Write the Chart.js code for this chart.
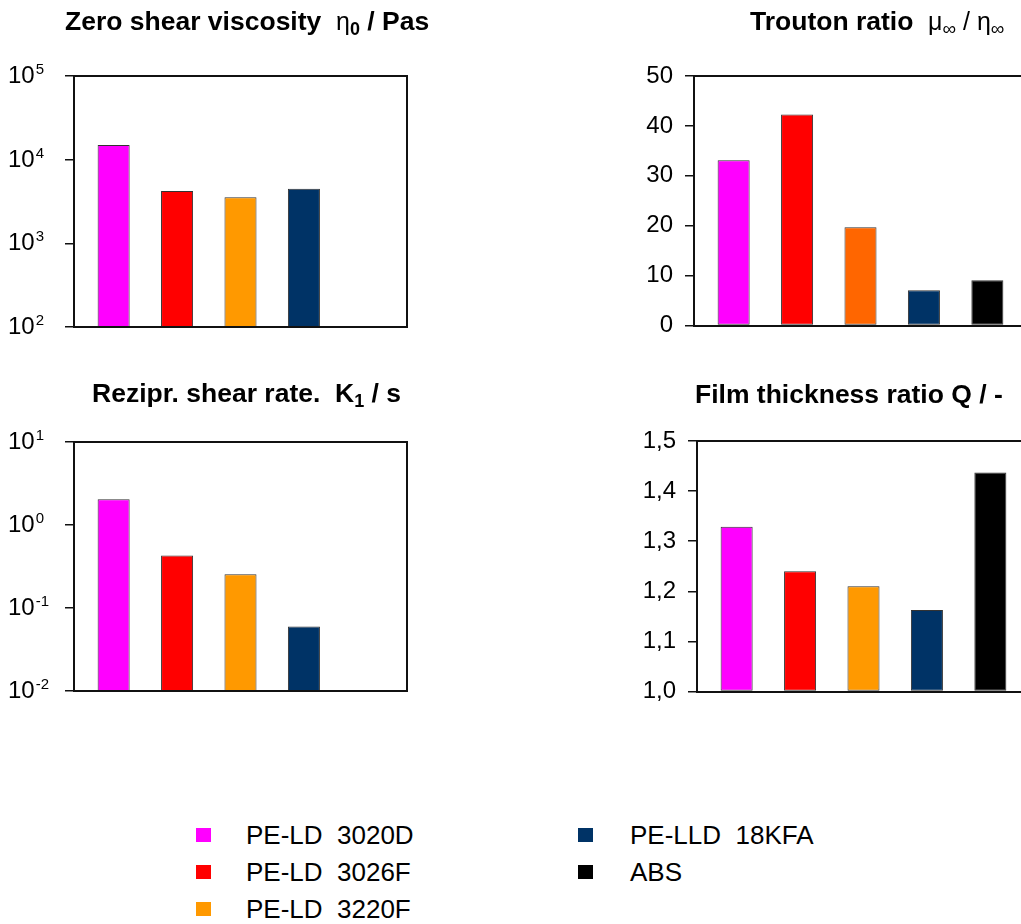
<!DOCTYPE html>
<html>
  <head>
    <script src="https://cdn.jsdelivr.net/npm/chart.js@4.4.0/dist/chart.umd.min.js"></script>
    <style>
      html, body { margin: 0; padding: 0; background: #fff; overflow: hidden; width: 1021px; height: 924px; }
      canvas { position: absolute; }
      .legend-item { position: absolute; font: 26px "Liberation Sans", Arial, sans-serif; line-height: 26px; white-space: pre; color: #000; }
      .swatch { position: absolute; width: 15px; height: 14px; }
    </style>
  </head>
  <body>
    <canvas id="viscosityChart" width="450" height="345" style="left:0;top:0"></canvas>
    <canvas id="troutonChart" width="480" height="352" style="left:560px;top:0"></canvas>
    <canvas id="shearRateChart" width="450" height="340" style="left:0;top:370px"></canvas>
    <canvas id="filmChart" width="480" height="348" style="left:560px;top:370px"></canvas>
    <div id="legend"></div>

    <script>
      // data
      var categories = ["PE-LD  3020D", "PE-LD  3026F", "PE-LD  3220F", "PE-LLD  18KFA", "ABS"];
      var zeroShearViscosity = [15000, 4230, 3550, 4500, null];
      var troutonRatio = [33.1, 42.3, 19.7, 7.1, 9.1];
      var reciprocalShearRate = [2.04, 0.43, 0.255, 0.0597, null];
      var filmThicknessRatio = [1.329, 1.24, 1.21, 1.163, 1.437];

      var viscosityExponents = [2, 3, 4, 5];
      var shearRateExponents = [-2, -1, 0, 1];
      var troutonTicks = [0, 10, 20, 30, 40, 50];
      var filmTicks = [1.0, 1.1, 1.2, 1.3, 1.4, 1.5];

      var barColors = ["#FF00FF", "#FF0000", "#FF9900", "#003366", "#000000"];
      var troutonColors = ["#FF00FF", "#FF0000", "#FF6600", "#003366", "#000000"];

      var family = '"Liberation Sans", Arial, sans-serif';
      Chart.defaults.font.family = family;
      Chart.defaults.color = "#000";

      // box round the plot area
      var framePlugin = {
        id: "frame",
        afterDatasetsDraw: function (chart) {
          var a = chart.chartArea;
          var ctx = chart.ctx;
          ctx.save();
          ctx.strokeStyle = "#111";
          ctx.lineWidth = 2;
          ctx.strokeRect(Math.round(a.left), Math.round(a.top),
            Math.round(a.right - a.left), Math.round(a.bottom - a.top));
          ctx.restore();
        }
      };

      // titles with sub scripts
      var titlePlugin = {
        id: "richTitle",
        afterDraw: function (chart, args, opts) {
          var ctx = chart.ctx;
          var x = opts.x;
          ctx.save();
          ctx.fillStyle = "#000";
          ctx.textAlign = "left";
          ctx.textBaseline = "alphabetic";
          opts.parts.forEach(function (p) {
            ctx.font = p.font + " " + family;
            ctx.fillText(p.text, x, opts.y + (p.dy || 0));
            x += ctx.measureText(p.text).width;
          });
          ctx.restore();
        }
      };

      // 10^n labels for the log axes
      var powerLabelPlugin = {
        id: "powerLabels",
        afterDraw: function (chart) {
          var scale = chart.scales.y;
          var ctx = chart.ctx;
          var x = chart.chartArea.left - 66;
          ctx.save();
          ctx.fillStyle = "#000";
          ctx.textAlign = "left";
          ctx.textBaseline = "alphabetic";
          scale.ticks.forEach(function (t) {
            var y = scale.getPixelForValue(t.value);
            var exp = Math.round(Math.log10(t.value));
            ctx.font = "24px " + family;
            ctx.fillText("10", x, y + 7);
            var w = ctx.measureText("10").width;
            ctx.font = "15px " + family;
            ctx.fillText(String(exp), x + w + 1, y - 2);
          });
          ctx.restore();
        }
      };

      // bars sit a little inside the frame
      function insetCategories(scale) {
        scale._startValue = -0.625;
        scale._valueRange = categories.length + 0.25;
      }

      function makeChart(id, values, colors, yScale, padding, title, plugins, base) {
        return new Chart(document.getElementById(id), {
          type: "bar",
          data: {
            labels: categories,
            datasets: [{
              data: values,
              backgroundColor: colors,
              borderColor: "#333",
              borderWidth: 1,
              borderSkipped: false,
              base: base,
              categoryPercentage: 1,
              barPercentage: 0.505
            }]
          },
          options: {
            responsive: false,
            animation: false,
            layout: { padding: padding },
            plugins: { legend: { display: false }, tooltip: { enabled: false }, richTitle: title },
            scales: {
              x: { display: false, afterBuildTicks: insetCategories },
              y: yScale
            }
          },
          plugins: [framePlugin, titlePlugin].concat(plugins)
        });
      }

      function logAxis(exponents, width) {
        return {
          type: "logarithmic",
          min: Math.pow(10, exponents[0]),
          max: Math.pow(10, exponents[exponents.length - 1]),
          afterBuildTicks: function (scale) {
            scale.ticks = exponents.map(function (e) { return { value: Math.pow(10, e) }; });
          },
          afterFit: function (scale) { scale.width = width; },
          ticks: { display: false },
          grid: { drawOnChartArea: false, drawTicks: true, tickLength: 9, color: "#111", lineWidth: 1.5 },
          border: { display: false }
        };
      }

      function linearAxis(tickValues, width, format) {
        return {
          type: "linear",
          min: tickValues[0],
          max: tickValues[tickValues.length - 1],
          afterBuildTicks: function (scale) {
            scale.ticks = tickValues.map(function (v) { return { value: v }; });
          },
          afterFit: function (scale) { scale.width = width; },
          ticks: { font: { size: 24 }, color: "#000", padding: 12, callback: format },
          grid: { drawOnChartArea: false, drawTicks: true, tickLength: 9, color: "#111", lineWidth: 1.5 },
          border: { display: false }
        };
      }

      makeChart("viscosityChart", zeroShearViscosity, barColors,
        logAxis(viscosityExponents, 74),
        { top: 76, bottom: 18, left: 0, right: 43 },
        { x: 65, y: 30, parts: [
          { text: "Zero shear viscosity  ", font: "bold 26.5px" },
          { text: "\u03b7", font: "25px" },
          { text: "0", font: "bold 18px", dy: 5 },
          { text: " / Pas", font: "bold 26.5px" }
        ] },
        [powerLabelPlugin]);

      makeChart("troutonChart", troutonRatio, troutonColors,
        linearAxis(troutonTicks, 134, function (v) { return String(v); }),
        { top: 76, bottom: 19, left: 0, right: 13 },
        { x: 190, y: 30, parts: [
          { text: "Trouton ratio  ", font: "bold 26.5px" },
          { text: "\u03bc", font: "25px" },
          { text: "\u221e", font: "19px", dy: 5 },
          { text: " / ", font: "25px" },
          { text: "\u03b7", font: "25px" },
          { text: "\u221e", font: "19px", dy: 5 }
        ] },
        []);

      makeChart("shearRateChart", reciprocalShearRate, barColors,
        logAxis(shearRateExponents, 74),
        { top: 72, bottom: 19, left: 0, right: 43 },
        { x: 92, y: 32, parts: [
          { text: "Rezipr. shear rate.  K", font: "bold 26.5px" },
          { text: "1", font: "bold 18px", dy: 5 },
          { text: " / s", font: "bold 26.5px" }
        ] },
        [powerLabelPlugin]);

      makeChart("filmChart", filmThicknessRatio, barColors,
        linearAxis(filmTicks, 137, function (v) { return v.toFixed(1).replace(".", ","); }),
        { top: 71, bottom: 18, left: 0, right: 10 },
        { x: 135, y: 33, parts: [
          { text: "Film thickness ratio Q / -", font: "bold 26.5px" }
        ] },
        [], 1);

      // legend as plain text
      var legendPos = [
        { sx: 196, tx: 246, top: 822 },
        { sx: 196, tx: 246, top: 859 },
        { sx: 196, tx: 246, top: 896 },
        { sx: 578, tx: 630, top: 822 },
        { sx: 578, tx: 630, top: 859 }
      ];
      var legend = document.getElementById("legend");
      categories.forEach(function (name, i) {
        var p = legendPos[i];
        var sw = document.createElement("div");
        sw.className = "swatch";
        sw.style.left = p.sx + "px";
        sw.style.top = (p.top + 6) + "px";
        sw.style.background = barColors[i];
        legend.appendChild(sw);
        var label = document.createElement("div");
        label.className = "legend-item";
        label.style.left = p.tx + "px";
        label.style.top = p.top + "px";
        label.textContent = name;
        legend.appendChild(label);
      });
    </script>
  </body>
</html>
